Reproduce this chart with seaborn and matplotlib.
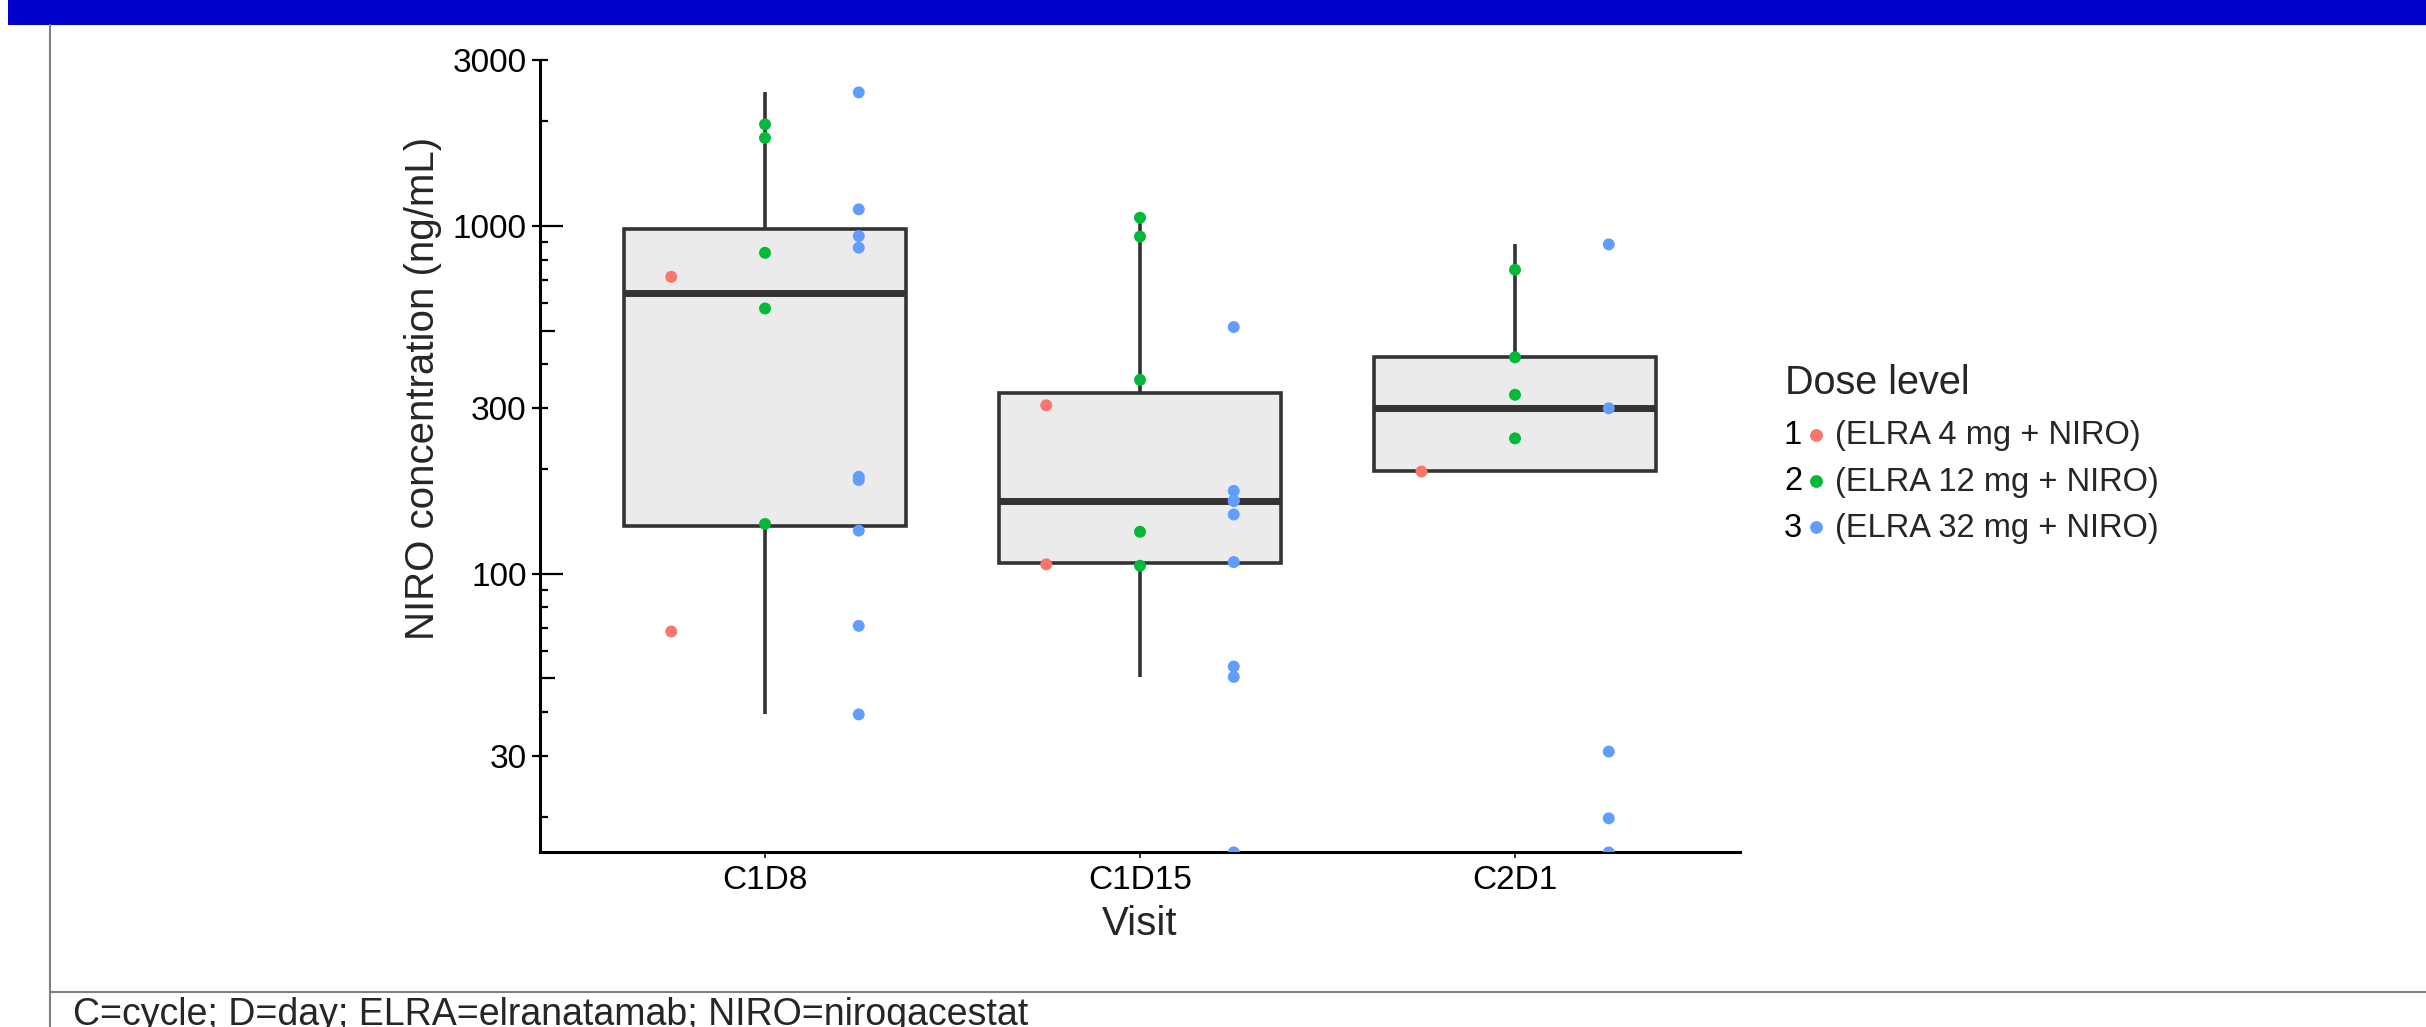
import matplotlib
matplotlib.use("Agg")
import matplotlib.pyplot as plt
import seaborn as sns
import numpy as np
import pandas as pd
from matplotlib.lines import Line2D
from matplotlib.text import Text
from matplotlib.patches import Rectangle
from matplotlib.legend_handler import HandlerBase
from matplotlib.ticker import FixedLocator, NullFormatter

visits = ["C1D8", "C1D15", "C2D1"]
dose_levels = ["1", "2", "3"]
dose_labels = ["(ELRA 4 mg + NIRO)", "(ELRA 12 mg + NIRO)", "(ELRA 32 mg + NIRO)"]
dose_colors = ["#F8766D", "#00BA38", "#619CFF"]

# NIRO concentration (ng/mL) per visit and dose level
c1d8_dose1 = [714, 68.2]
c1d8_dose2 = [1959, 1791, 837, 579, 139]
c1d8_dose3 = [2421, 1116, 935, 866, 190, 186, 133, 70.8, 39.4]
c1d15_dose1 = [305, 106.4]
c1d15_dose2 = [1056, 932, 361, 132, 105.4]
c1d15_dose3 = [512, 173, 162, 162, 148, 108, 54.1, 50.5, 15.8]
c2d1_dose1 = [197]
c2d1_dose2 = [748, 419, 327, 245]
c2d1_dose3 = [885, 299, 30.8, 19.8, 15.8]

y_lo, y_hi = 15.8, 3000
y_labeled = [30, 100, 300, 1000, 3000]
y_minor = [20, 30, 40, 50, 60, 70, 80, 90, 100, 200, 300, 400, 500,
           600, 700, 800, 900, 1000, 2000, 3000]

groups = {
    ("C1D8", "1"): c1d8_dose1, ("C1D8", "2"): c1d8_dose2, ("C1D8", "3"): c1d8_dose3,
    ("C1D15", "1"): c1d15_dose1, ("C1D15", "2"): c1d15_dose2, ("C1D15", "3"): c1d15_dose3,
    ("C2D1", "1"): c2d1_dose1, ("C2D1", "2"): c2d1_dose2, ("C2D1", "3"): c2d1_dose3,
}
rows = []
for (visit, dose), vals in groups.items():
    for v in vals:
        rows.append({"visit": visit, "dose": dose, "conc": v})
df = pd.DataFrame(rows)

sns.set_style("ticks")
plt.rcParams["font.family"] = ["Liberation Sans", "DejaVu Sans"]

W, H = 2426, 1027
fig = plt.figure(figsize=(W / 100, H / 100), dpi=100)
ax = fig.add_axes([540 / W, 1 - 852.4 / H, 1200 / W, (852.4 - 60) / H])

# box uses the values above the lower limit, points show everything
sns.boxplot(data=df[df["conc"] > y_lo], x="visit", y="conc", order=visits,
            log_scale=True, width=0.75, color="#EBEBEB", saturation=1,
            linecolor="#333333", linewidth=2.6, showfliers=False, showcaps=False,
            medianprops={"linewidth": 5}, ax=ax)
n_before = len(ax.collections)
sns.stripplot(data=df, x="visit", y="conc", hue="dose", order=visits,
              hue_order=dose_levels, palette=dose_colors, dodge=True, jitter=False,
              size=8.6, linewidth=0, legend=False, zorder=3, ax=ax)

# pull the dodged columns a bit closer (0.25 instead of 0.267)
for coll in ax.collections[n_before:]:
    offs = np.asarray(coll.get_offsets()).copy()
    if len(offs):
        cx = np.round(offs[:, 0])
        offs[:, 0] = cx + (offs[:, 0] - cx) * 0.25 / (0.8 / 3)
        coll.set_offsets(offs)

ax.set_xlim(-0.6, 2.6)
ax.set_ylim(y_lo, y_hi)
sns.despine(ax=ax)
for s in ["left", "bottom"]:
    ax.spines[s].set_linewidth(2.2)
    ax.spines[s].set_color("black")

ax.set_xlabel("Visit", fontsize=29, labelpad=6)
ax.set_ylabel("NIRO concentration (ng/mL)", fontsize=29)
ax.yaxis.set_label_coords(-0.082, 0.585)

ax.yaxis.remove_overlapping_locs = False
ax.yaxis.set_major_locator(FixedLocator(y_labeled))
ax.set_yticklabels([str(v) for v in y_labeled])
ax.yaxis.set_minor_locator(FixedLocator(y_minor))
ax.yaxis.set_minor_formatter(NullFormatter())
ax.tick_params(axis="y", which="major", direction="out", length=5.5, width=1.6,
               color="black", labelsize=24, labelcolor="black", pad=4)
ax.tick_params(axis="y", which="minor", direction="in", length=5.5, width=1.6,
               color="black")
ax.tick_params(axis="x", which="major", direction="out", length=4.3, width=1.4,
               color="#333333", labelsize=24, labelcolor="black", pad=5)
ax.tick_params(axis="x", which="minor", length=0)

# longer ticks at the decades and the halves
for t, loc in zip(ax.yaxis.get_minor_ticks(), ax.yaxis.get_minorticklocs()):
    if loc in (100, 1000):
        t.tick1line.set_markersize(16.5)
    elif loc in (50, 500):
        t.tick1line.set_markersize(10.8)


class NumberedDot(HandlerBase):
    def create_artists(self, legend, orig_handle, xdescent, ydescent, width,
                       height, fontsize, trans):
        num = Text(-xdescent, -ydescent, orig_handle.get_label(),
                   fontproperties=legend.prop, va="baseline", ha="left",
                   color="black", transform=trans)
        dot = Line2D([-xdescent + 0.75 * width], [-ydescent + 0.3 * fontsize],
                     marker="o", ls="", markersize=8.2,
                     color=orig_handle.get_color(), transform=trans)
        return [num, dot]


handles = [Line2D([], [], marker="o", ls="", color=c, label=n)
           for n, c in zip(dose_levels, dose_colors)]
fig.text(1785 / W, 1 - 383 / H, "Dose level", fontsize=28.5, va="center", ha="left")
fig.legend(handles, dose_labels, handler_map={Line2D: NumberedDot()},
           loc="center left", bbox_to_anchor=(1784 / W, 1 - 482 / H),
           frameon=False, fontsize=23.5, handlelength=1.3, handletextpad=0.25,
           labelspacing=0.46, borderpad=0, borderaxespad=0)

# slide frame: blue title band, grey borders, footnote
fig.add_artist(Rectangle((8 / W, 1 - 25 / H), 1, 25 / H, transform=fig.transFigure,
                         color="#0000CC", lw=0))
fig.add_artist(Line2D([50 / W, 50 / W], [0, 1 - 25 / H], transform=fig.transFigure,
                      color="#808080", lw=1.5))
fig.add_artist(Line2D([50 / W, 1], [1 - 992 / H, 1 - 992 / H],
                      transform=fig.transFigure, color="#808080", lw=1.5))
fig.text(73 / W, 1 - 1025 / H, "C=cycle; D=day; ELRA=elranatamab; NIRO=nirogacestat",
         fontsize=27, va="baseline")

fig.savefig("out.png", dpi=100)
